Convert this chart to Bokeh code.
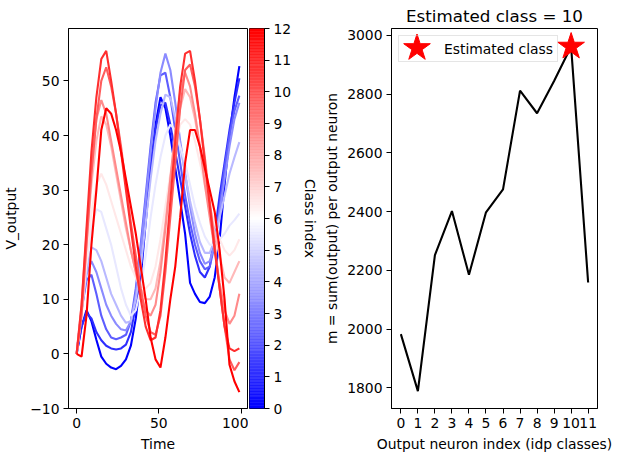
import numpy as np
from bokeh.plotting import figure
from bokeh.layouts import row
from bokeh.models import Range1d, FixedTicker, Legend, LegendItem
from bokeh.embed import file_html
from bokeh.resources import INLINE

# ---------------- data ----------------
time = [0, 3, 6, 9, 12, 15, 18, 21, 24, 27, 30, 33, 36, 39, 42, 45, 48, 51,
        54, 57, 60, 63, 66, 69, 72, 75, 78, 81, 84, 87, 90, 93, 96, 99]

v_class0 = [0, 5, 8, 6, 2.6, -0.5, -1.8, -2.5, -2.8, -2.2, -1, 1.5, 6.5, 14, 24, 34, 42, 47,
            45, 40, 34, 28, 22, 13, 11, 9.5, 9.3, 10.5, 14, 21, 31, 40, 47, 52.7]
v_class1 = [0, 5, 7.5, 6.5, 4, 2.5, 1.5, 1, 0.8, 1, 1.7, 4, 9, 16, 25, 34, 41, 45.5,
            46, 42, 37, 32, 27, 22, 18, 15, 14, 16, 22, 29, 35, 41, 46, 50.5]
v_class2 = [0, 8, 13.5, 14.5, 11, 7, 4.5, 3, 2.7, 3, 3.5, 6, 12, 20, 29, 38, 46, 51,
            51.5, 47, 41, 35, 29, 24, 20, 17, 15.5, 16, 20, 27, 34, 40, 44.5, 47.3]
v_class3 = [0, 8, 14.5, 17, 15, 12, 9, 7, 5.5, 4.5, 4.3, 6, 11, 19, 28, 37, 45, 51.5,
            55, 52, 46, 39, 33, 27, 22, 18.5, 16.5, 17, 20, 26, 32, 38, 43, 46]
v_class4 = [0, 8, 15, 19.5, 19, 17, 14, 11, 9, 7, 5.7, 6, 10, 16, 24, 32, 39, 44,
            47.5, 47, 43, 38, 33, 28, 24, 20.5, 18.5, 18.5, 21, 25, 29, 33, 36, 38.8]
v_class5 = [0, 8, 17, 23, 26.5, 26, 23, 20, 16, 12, 9, 7, 8, 12, 18, 25, 31, 36,
            40, 42, 41, 38, 35, 31, 27, 24, 21.5, 20, 20, 21, 22, 23.5, 24.5, 25.7]
v_class6 = [0, 7, 17, 26, 31, 33, 31, 28, 25, 22, 19, 16, 14, 12, 12, 13, 16, 21,
            27, 33, 38, 42, 43, 42, 39, 35, 31, 27, 24, 21, 19, 18, 19, 21]
v_class7 = [0, 8, 20, 31, 39, 43.5, 42, 38, 33, 28, 23, 19, 15, 12, 10, 10, 12, 17,
            24, 32, 39, 45, 48.5, 47, 43, 38, 32, 27, 22, 18, 14, 13, 15, 17]
v_class8 = [0, 9, 22, 34, 43, 46.5, 44, 39, 34, 29, 24, 19, 15, 11, 8, 7, 9, 15,
            23, 32, 41, 48, 51.5, 49, 44, 38, 31, 25, 19, 13, 8, 5.5, 7, 11]
v_class9 = [0, 7, 20, 33, 43, 50, 52.5, 49, 44, 38, 31, 24, 18, 12, 7, 4, 3.5, 7,
            15, 25, 35, 45, 52, 53, 49, 43, 36, 28, 20, 12, 5, -1, -3, -1.5]
v_class10 = [0, 9, 23, 37, 47, 54, 55.5, 50, 44, 37, 30, 23, 16, 10, 5, 2.5, 3, 8,
             17, 28, 39, 49, 55, 55.5, 50, 43, 35, 27, 19, 12, 5, 1, 0.5, 1]
v_class11 = [0, -0.5, 7, 20, 30, 41, 45, 44, 41, 37, 32, 27, 22, 16, 10, 3, -1, -2.5,
             3, 10, 16, 25, 35, 41, 41, 38, 34, 30, 26, 19, 10, -2, -5, -7]

class_series = [v_class0, v_class1, v_class2, v_class3, v_class4, v_class5,
                v_class6, v_class7, v_class8, v_class9, v_class10, v_class11]
class_ids = list(range(12))

x_ticks_left = [0, 50, 100]
y_ticks_left = [-10, 0, 10, 20, 30, 40, 50]
colorbar_ticks = list(range(13))

neuron_index = list(range(12))
m_values = [1983, 1789, 2252, 2402, 2185, 2398, 2476, 2812, 2735, 2845, 2962, 2159]
estimated_class = 10
y_ticks_right = [1800, 2000, 2200, 2400, 2600, 2800, 3000]

# ---------------- style helpers ----------------
FONT = "DejaVu Sans"
FS = "13.9px"
TOP, BOTTOM = 28, 46
H = 454
FRAME_H = H - TOP - BOTTOM


def bwr(x):
    if x < 0.5:
        r = g = 2 * x
        b = 1.0
    else:
        r = 1.0
        g = b = 2 * (1 - x)
    return "#%02x%02x%02x" % (int(round(r * 255)), int(round(g * 255)), int(round(b * 255)))


def style(p):
    p.background_fill_color = "white"
    p.border_fill_color = "white"
    p.outline_line_color = "black"
    p.outline_line_width = 1
    p.xgrid.visible = False
    p.ygrid.visible = False
    for ax in p.axis:
        ax.axis_line_color = "black"
        ax.major_tick_line_color = "black"
        ax.major_tick_out = 5
        ax.major_tick_in = 0
        ax.minor_tick_line_color = None
        ax.major_label_text_font = FONT
        ax.major_label_text_font_size = FS
        ax.major_label_text_color = "black"
        ax.axis_label_text_font = FONT
        ax.axis_label_text_font_size = FS
        ax.axis_label_text_font_style = "normal"
        ax.axis_label_text_color = "black"
        ax.major_label_standoff = 4


# ---------------- left: time series ----------------
p1 = figure(width=248, height=H,
            min_border_left=66, min_border_right=1, min_border_top=TOP, min_border_bottom=BOTTOM,
            x_range=Range1d(-4.95, 103.95), y_range=Range1d(-10, 59.6),
            output_backend="svg", toolbar_location=None)
n_cls = len(class_ids)
for cid, vals in zip(class_ids, class_series):
    p1.line(time, vals, line_color=bwr(cid / (n_cls - 1)), line_width=2.1)
style(p1)
p1.xaxis.ticker = FixedTicker(ticks=x_ticks_left)
p1.yaxis.ticker = FixedTicker(ticks=y_ticks_left)
p1.yaxis.major_label_overrides = {t: str(t).replace("-", "\u2212") for t in y_ticks_left}
p1.xaxis.axis_label = "Time"
p1.yaxis.axis_label = "V_output"
p1.yaxis.axis_label_standoff = 8

# ---------------- colorbar ----------------
cb = figure(width=73, height=H,
            min_border_left=1, min_border_right=53, min_border_top=TOP, min_border_bottom=BOTTOM,
            x_range=Range1d(0, 1), y_range=Range1d(colorbar_ticks[0], colorbar_ticks[-1]),
            y_axis_location="right", output_backend="svg", toolbar_location=None)
nseg = 256
edges = np.linspace(colorbar_ticks[0], colorbar_ticks[-1], nseg + 1)
seg_cols = [bwr(k / (nseg - 1)) for k in range(nseg)]
cb.quad(left=0, right=1, bottom=edges[:-1], top=edges[1:],
        fill_color=seg_cols, line_color=seg_cols, line_width=0.5)
style(cb)
cb.xaxis.visible = False
cb.yaxis.ticker = FixedTicker(ticks=colorbar_ticks)
cb.yaxis.axis_label = "Class index"
cb.yaxis.axis_label_standoff = 8

# ---------------- right: m per neuron ----------------
P2_LEFT, P2_FRAME_W, P2_RIGHT = 66, 210, 16
X2 = (-0.55, 11.55)
Y2 = (1730, 3023.5)
p2 = figure(width=P2_LEFT + P2_FRAME_W + P2_RIGHT, height=H,
            min_border_left=P2_LEFT, min_border_right=P2_RIGHT,
            min_border_top=TOP, min_border_bottom=BOTTOM,
            x_range=Range1d(*X2), y_range=Range1d(*Y2),
            output_backend="svg", toolbar_location=None)
p2.line(neuron_index, m_values, line_color="black", line_width=2.1)
p2.scatter([estimated_class], [m_values[estimated_class]], marker="star",
           size=28, fill_color="red", line_color="red")
style(p2)
p2.xaxis.ticker = FixedTicker(ticks=neuron_index)
p2.yaxis.ticker = FixedTicker(ticks=y_ticks_right)
p2.xaxis.axis_label = "Output neuron index (idp classes)"
p2.yaxis.axis_label = "m = sum(output) per output neuron"
p2.yaxis.axis_label_standoff = 4
p2.title.text = "Estimated class = %d" % estimated_class
p2.title.align = "center"
p2.title.text_font = FONT
p2.title.text_font_size = "16.7px"
p2.title.text_font_style = "normal"
p2.title.text_color = "black"
p2.title.standoff = 6

# legend: Bokeh shrinks marker glyphs in legends, so the legend handle is
# drawn at full marker size at the handle position (computed from the layout)
LEG_MARGIN, LEG_PAD, GLYPH_W, GLYPH_H = 7, 4, 30, 17
hx_px = LEG_MARGIN + LEG_PAD + GLYPH_W / 2
hy_px = LEG_MARGIN + LEG_PAD + GLYPH_H / 2
hx = X2[0] + hx_px * (X2[1] - X2[0]) / P2_FRAME_W
hy = Y2[1] - hy_px * (Y2[1] - Y2[0]) / FRAME_H
legend_star = p2.scatter([hx], [hy], marker="star", size=28,
                         fill_color="red", line_color="red")

legend = Legend(items=[LegendItem(label="Estimated class", renderers=[legend_star])],
                location="top_left")
legend.label_text_font = FONT
legend.label_text_font_size = FS
legend.label_text_color = "black"
legend.border_line_color = "#cccccc"
legend.border_line_width = 1
legend.background_fill_alpha = 0.0
legend.margin = LEG_MARGIN
legend.padding = LEG_PAD
legend.spacing = 0
legend.glyph_width = GLYPH_W
legend.glyph_height = GLYPH_H
legend.label_standoff = 11
legend.label_height = GLYPH_H
p2.add_layout(legend)

layout = row(p1, cb, p2)
open("out.html", "w").write(file_html(layout, INLINE))
